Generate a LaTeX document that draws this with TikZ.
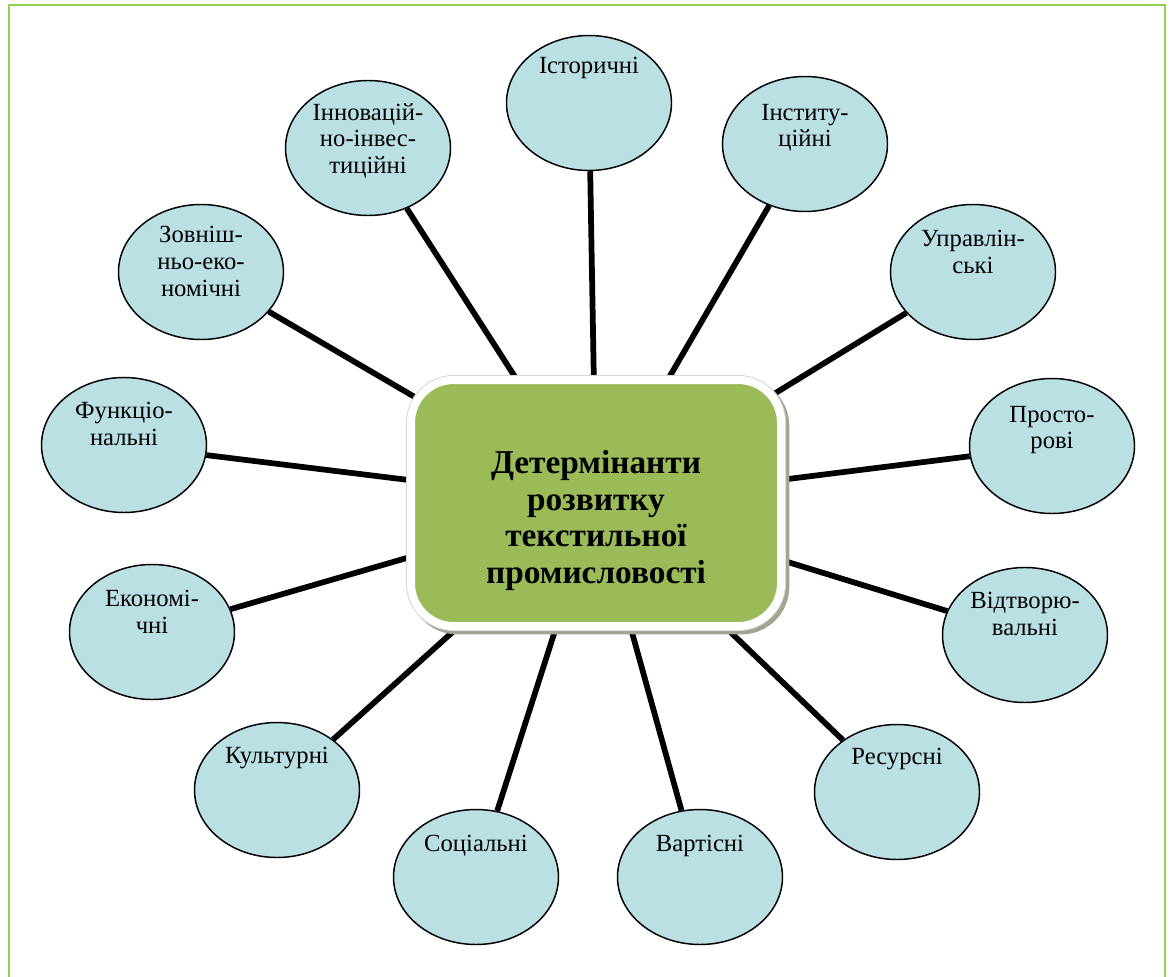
\documentclass[tikz,border=0pt]{standalone}
\usepackage{fontspec}
\setmainfont{Liberation Serif}
\newfontfamily\tnr{Liberation Serif}
\usetikzlibrary{shapes.geometric}
\definecolor{ellfill}{RGB}{186,224,228}
\definecolor{boxgreen}{RGB}{155,187,89}
\definecolor{framegreen}{RGB}{146,208,80}
\definecolor{shadowc}{RGB}{160,166,146}
\definecolor{ringgray}{RGB}{215,215,215}
\pgfdeclarelayer{background}
\pgfsetlayers{background,main}
\begin{document}
\begin{tikzpicture}[x=0.75pt,y=-0.75pt,
  ell/.style={ellipse, draw=black, line width=1.1pt, fill=ellfill,
    minimum width=123.75pt, minimum height=101.25pt, inner sep=0pt},
  lbl/.style={anchor=north, align=center, inner sep=0pt,
    font=\tnr\fontsize{18.5}{20}\selectfont},
  spoke/.style={line width=4.3pt, black},
  centerbox/.style={rectangle, rounded corners=32pt, fill=boxgreen,
    draw=white, line width=6pt, minimum width=277.5pt, minimum height=184.5pt,
    preaction={fill=shadowc, draw=shadowc, line width=7.5pt,
      transform canvas={xshift=2.5pt, yshift=-2.5pt}},
    preaction={draw=ringgray, line width=7.5pt}},
  titletext/.style={align=center, inner sep=0pt,
    font=\tnr\bfseries\fontsize{25}{27.5}\selectfont}
]
\clip (0,0) rectangle (1171,977);
\draw[framegreen, line width=2pt] (9,5) rectangle (1165,1000);

% centre box
\node[centerbox] (box) at (596,503) {};
\node[titletext] (title) at ([yshift=-13pt]box.center)
  {Детермінанти\\розвитку\\текстильної\\промисловості};

% ellipses
\node[ell] (e1)  at (589,103) {};
\node[ell] (e2)  at (805,144) {};
\node[ell] (e3)  at (973,272) {};
\node[ell] (e4)  at (1052,446) {};
\node[ell] (e5)  at (1025,635) {};
\node[ell] (e6)  at (897,792) {};
\node[ell] (e7)  at (700,877) {};
\node[ell] (e8)  at (476,877) {};
\node[ell] (e9)  at (277,790) {};
\node[ell] (e10) at (152,632) {};
\node[ell] (e11) at (124,445) {};
\node[ell] (e12) at (201,272) {};
\node[ell] (e13) at (368,148) {};

% labels
\node[lbl] (t1)  at ([yshift=-15pt]e1.north)  {\strut Історичні};
\node[lbl] (t2)  at ([yshift=-19pt]e2.north)  {\strut Інститу-\\ційні};
\node[lbl] (t3)  at ([yshift=-18pt]e3.north)  {\strut Управлін-\\ські};
\node[lbl] (t4)  at ([yshift=-19pt]e4.north)  {\strut Просто-\\рові};
\node[lbl] (t5)  at ([yshift=-17pt]e5.north)  {\strut Відтворю-\\вальні};
\node[lbl] (t6)  at ([yshift=-16pt]e6.north)  {\strut Ресурсні};
\node[lbl] (t7)  at ([yshift=-18pt]e7.north)  {\strut Вартісні};
\node[lbl] (t8)  at ([yshift=-18pt]e8.north)  {\strut Соціальні};
\node[lbl] (t9)  at ([yshift=-17pt]e9.north)  {\strut Культурні};
\node[lbl] (t10) at ([yshift=-18pt]e10.north) {\strut Економі-\\чні};
\node[lbl] (t11) at ([yshift=-17pt]e11.north) {\strut Функціо-\\нальні};
\node[lbl] (t12) at ([yshift=-15pt]e12.north) {\strut Зовніш-\\ньо-еко-\\номічні};
\node[lbl] (t13) at ([yshift=-16pt]e13.north) {\strut Інновацій-\\но-інвес-\\тиційні};

% spokes
\begin{pgfonlayer}{background}
\foreach \i in {1,...,13} {
  \draw[spoke] (e\i) -- (box.center);
}
\end{pgfonlayer}
\end{tikzpicture}
\end{document}
